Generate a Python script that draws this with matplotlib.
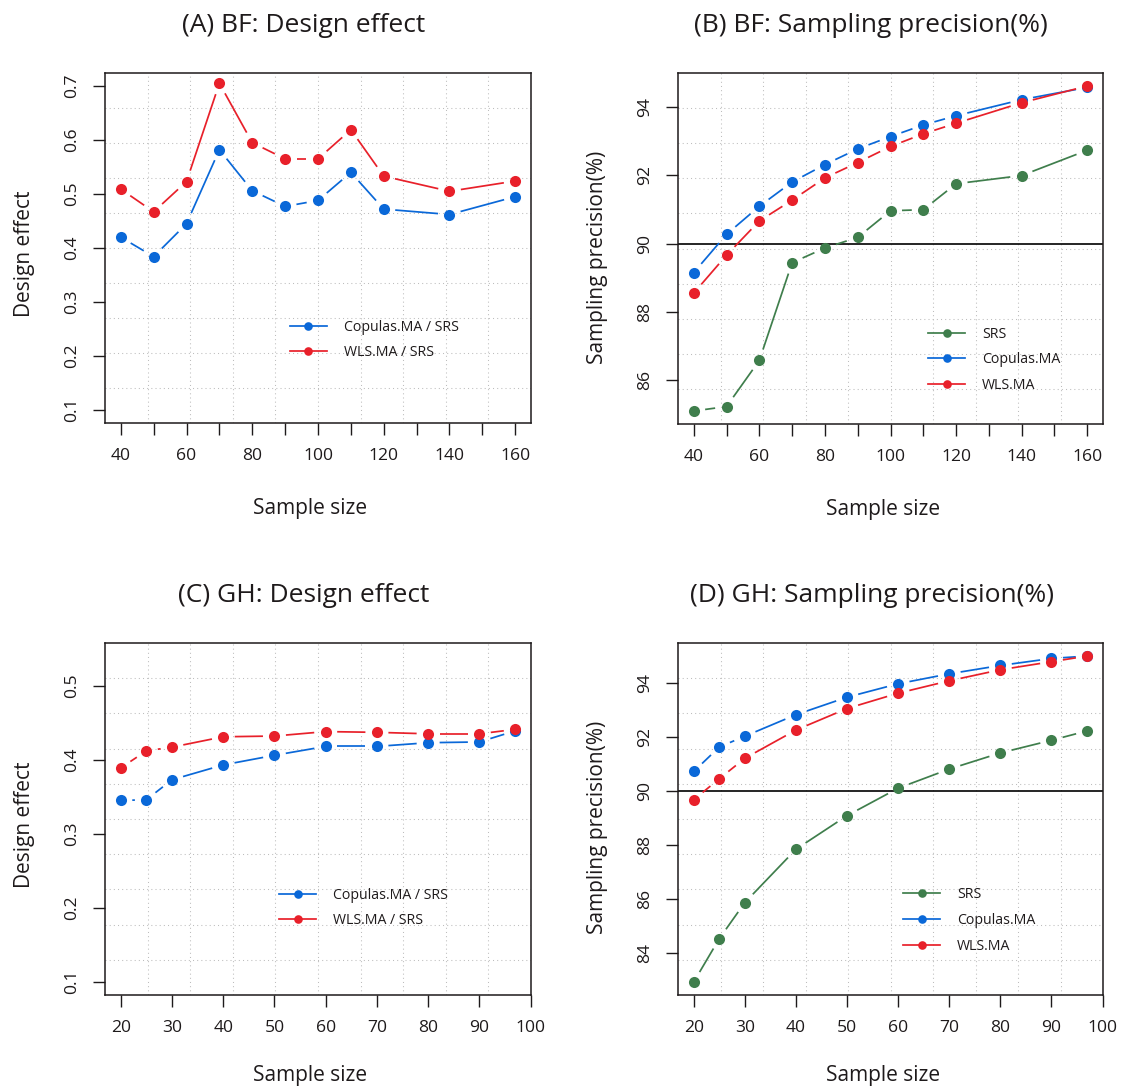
import numpy as np
import matplotlib
matplotlib.use("Agg")
import matplotlib.pyplot as plt
from matplotlib.collections import LineCollection
from matplotlib.lines import Line2D

plt.rcParams['font.family'] = ['Open Sans', 'DejaVu Sans']

# ---- data ----
n_bf = [40, 50, 60, 70, 80, 90, 100, 110, 120, 140, 160]
deff_bf_cop = [0.420, 0.384, 0.445, 0.582, 0.506, 0.477, 0.488, 0.540, 0.472, 0.462, 0.495]
deff_bf_wls = [0.509, 0.467, 0.523, 0.705, 0.595, 0.565, 0.565, 0.619, 0.533, 0.505, 0.524]
prec_bf_srs = [85.10, 85.23, 86.58, 89.44, 89.87, 90.18, 90.96, 90.99, 91.75, 91.99, 92.73]
prec_bf_cop = [89.15, 90.27, 91.09, 91.80, 92.31, 92.77, 93.13, 93.47, 93.74, 94.21, 94.57]
prec_bf_wls = [88.55, 89.66, 90.66, 91.27, 91.92, 92.37, 92.84, 93.21, 93.52, 94.12, 94.61]

n_gh = [20, 25, 30, 40, 50, 60, 70, 80, 90, 97]
deff_gh_cop = [0.345, 0.346, 0.373, 0.393, 0.406, 0.418, 0.418, 0.423, 0.424, 0.439]
deff_gh_wls = [0.389, 0.412, 0.417, 0.431, 0.432, 0.438, 0.437, 0.435, 0.435, 0.441]
prec_gh_srs = [82.91, 84.52, 85.86, 87.84, 89.09, 90.11, 90.82, 91.42, 91.89, 92.24]
prec_gh_cop = [90.73, 91.64, 92.04, 92.84, 93.49, 93.99, 94.36, 94.67, 94.93, 95.02]
prec_gh_wls = [89.68, 90.46, 91.22, 92.27, 93.07, 93.64, 94.10, 94.51, 94.81, 95.02]

xticks_bf = list(range(40, 161, 10))
xlabels_bf = [str(v) if v % 20 == 0 else '' for v in xticks_bf]
xticks_gh = list(range(20, 101, 10))
xlabels_gh = [str(v) for v in xticks_gh]

yticks_deff_bf = [0.1, 0.2, 0.3, 0.4, 0.5, 0.6, 0.7]
yticks_deff_gh = [0.1, 0.2, 0.3, 0.4, 0.5]
yticks_prec_bf = [86, 88, 90, 92, 94]
yticks_prec_gh = [84, 86, 88, 90, 92, 94]

BLUE = '#0A68D8'
RED = '#E8202A'
GREEN = '#3F7E4C'
INK = '#1E1A1B'

W, H = 1121, 1088
fig = plt.figure(figsize=(W / 100, H / 100), dpi=100)


def px_axes(left, top, right, bottom):
    return fig.add_axes([left / W, (H - bottom) / H, (right - left) / W, (bottom - top) / H])


def padded(vals, frac=0.04):
    lo, hi = min(vals), max(vals)
    r = hi - lo
    return lo - frac * r, hi + frac * r


def gapped(ax, x, y, color, gap=11.5, lw=1.25):
    # like R type="b": segments stop short of the points
    pts = ax.transData.transform(np.column_stack([x, y]))
    segs = []
    for p0, p1 in zip(pts[:-1], pts[1:]):
        d = p1 - p0
        L = np.hypot(*d)
        if L <= 2 * gap:
            continue
        u = d / L
        segs.append([p0 + u * gap, p1 - u * gap])
    if segs:
        segs = ax.transData.inverted().transform(np.array(segs).reshape(-1, 2)).reshape(-1, 2, 2)
        ax.add_collection(LineCollection(segs, colors=color, linewidths=lw, zorder=3), autolim=False)
    ax.plot(x, y, 'o', color=color, ms=8, mec='none', zorder=4)


def style(ax, xlim, ylim, xticks, xlabels, yticks, title, tx, ylabel, ly, xly):
    ax.set_xlim(*xlim)
    ax.set_ylim(*ylim)
    for k in range(1, 10):
        ax.axvline(xlim[0] + k * (xlim[1] - xlim[0]) / 10, color='#BDBDBD', lw=0.75,
                   ls=(0, (1, 3)), zorder=1)
        ax.axhline(ylim[0] + k * (ylim[1] - ylim[0]) / 10, color='#BDBDBD', lw=0.75,
                   ls=(0, (1, 3)), zorder=1)
    ax.set_xticks(xticks)
    ax.set_xticklabels(xlabels)
    ax.set_yticks(yticks)
    ax.set_yticklabels([f'{v:g}' for v in yticks])
    ax.tick_params(direction='out', length=8.3, width=1.0, pad=9.4, labelsize=12.6,
                   colors=INK)
    ax.tick_params(axis='y', labelrotation=90)
    for lab in ax.get_yticklabels():
        lab.set_va('center')
    for sp in ax.spines.values():
        sp.set_linewidth(1.1)
        sp.set_color(INK)
    ax.set_title(title, x=tx, y=1.116, pad=0, fontsize=19, color=INK, va='baseline', ha='center')
    ax.set_xlabel('Sample size', fontsize=15, color=INK, va='baseline')
    ax.xaxis.set_label_coords(0.482, xly)
    ax.set_ylabel(ylabel, fontsize=15, color=INK, va='center')
    ax.yaxis.set_label_coords(-0.19, ly)


def legend(ax, names, colors, x, y):
    handles = [Line2D([], [], color=c, lw=1.25, marker='o', ms=6.2, mec='none') for c in colors]
    ax.legend(handles, names, loc='center left', bbox_to_anchor=(x, y), frameon=False,
              fontsize=10.2, handlelength=2.6, handletextpad=1.2, labelspacing=0.75,
              borderpad=0, borderaxespad=0, labelcolor=INK)


# (A)
axA = px_axes(105, 73, 531, 423)
style(axA, padded(n_bf), padded([0.1, 0.7]), xticks_bf, xlabels_bf, yticks_deff_bf,
      '(A) BF: Design effect', 0.466, 'Design effect', 0.484, -0.26)
gapped(axA, n_bf, deff_bf_cop, BLUE)
gapped(axA, n_bf, deff_bf_wls, RED)
legend(axA, ['Copulas.MA / SRS', 'WLS.MA / SRS'], [BLUE, RED], 0.434, 0.237)

# (B)
axB = px_axes(678, 73, 1103, 424)
style(axB, padded(n_bf), padded(prec_bf_srs + prec_bf_cop + prec_bf_wls), xticks_bf, xlabels_bf,
      yticks_prec_bf, '(B) BF: Sampling precision(%)', 0.453, 'Sampling precision(%)', 0.475, -0.26)
axB.axhline(90, color='black', lw=1.2, zorder=2)
gapped(axB, n_bf, prec_bf_srs, GREEN)
gapped(axB, n_bf, prec_bf_cop, BLUE)
gapped(axB, n_bf, prec_bf_wls, RED)
legend(axB, ['SRS', 'Copulas.MA', 'WLS.MA'], [GREEN, BLUE, RED], 0.589, 0.183)

# (C)
axC = px_axes(105, 643, 531, 995)
style(axC, padded(n_gh), padded([0.1, 0.54]), xticks_gh, xlabels_gh, yticks_deff_gh,
      '(C) GH: Design effect', 0.466, 'Design effect', 0.484, -0.243)
gapped(axC, n_gh, deff_gh_cop, BLUE)
gapped(axC, n_gh, deff_gh_wls, RED)
legend(axC, ['Copulas.MA / SRS', 'WLS.MA / SRS'], [BLUE, RED], 0.409, 0.247)

# (D)
axD = px_axes(678, 643, 1103, 995)
style(axD, padded(n_gh), padded(prec_gh_srs + prec_gh_cop + prec_gh_wls), xticks_gh, xlabels_gh,
      yticks_prec_gh, '(D) GH: Sampling precision(%)', 0.457, 'Sampling precision(%)', 0.475, -0.243)
axD.axhline(90, color='black', lw=1.2, zorder=2)
gapped(axD, n_gh, prec_gh_srs, GREEN)
gapped(axD, n_gh, prec_gh_cop, BLUE)
gapped(axD, n_gh, prec_gh_wls, RED)
legend(axD, ['SRS', 'Copulas.MA', 'WLS.MA'], [GREEN, BLUE, RED], 0.530, 0.212)

fig.savefig('out.png', dpi=100)
